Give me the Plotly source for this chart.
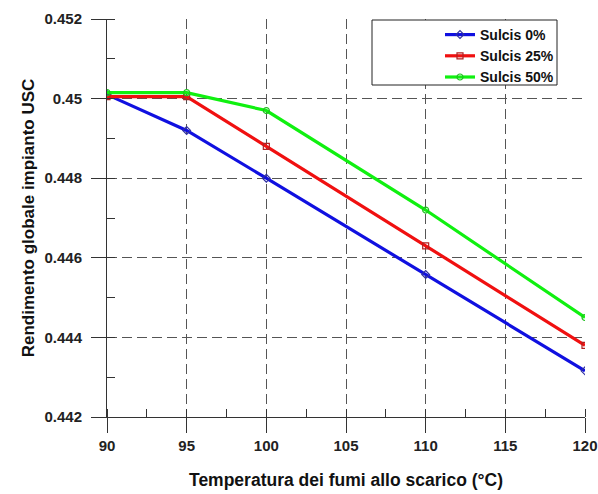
import plotly.graph_objects as go

temps = [90, 95, 100, 110, 120]
sulcis_0 = [0.45010, 0.44920, 0.44800, 0.44558, 0.44316]
sulcis_25 = [0.45005, 0.45005, 0.44880, 0.44630, 0.44380]
sulcis_50 = [0.45015, 0.45015, 0.44970, 0.44720, 0.44450]
series_names = ["Sulcis 0%", "Sulcis 25%", "Sulcis 50%"]
y_ticks = [0.442, 0.444, 0.446, 0.448, 0.450, 0.452]
y_ticktext = ["0.442", "0.444", "0.446", "0.448", "0.45", "0.452"]
x_ticks = [90, 95, 100, 105, 110, 115, 120]

W, H = 598, 494
L, R, T, B = 107, 13, 19, 77

fig = go.Figure()
styles = [
    dict(line=dict(color="#1010e0", width=3.2), marker=dict(symbol="diamond-open", size=6, color="#3030a0", line=dict(width=1.2))),
    dict(line=dict(color="#f01010", width=3.2), marker=dict(symbol="square-open", size=6, color="#b02020", line=dict(width=1.2))),
    dict(line=dict(color="#10f010", width=3.2), marker=dict(symbol="circle-open", size=6, color="#20c020", line=dict(width=1.2))),
]
for name, ys, st in zip(series_names, [sulcis_0, sulcis_25, sulcis_50], styles):
    fig.add_trace(go.Scatter(x=temps, y=ys, name=name, mode="lines+markers", **st))

axis_common = dict(
    showline=True, linecolor="#333", linewidth=1,
    ticks="outside", ticklen=15, tickcolor="#333", tickwidth=1,
    showgrid=True, gridcolor="#555", gridwidth=1, griddash="10px,5px",
    zeroline=False, automargin=False,
    tickfont=dict(family="Liberation Sans, Arial", size=15, color="#222", weight="bold"),
)

fig.update_xaxes(
    range=[90, 120], tickvals=x_ticks,
    title=dict(text="<b>Temperatura dei fumi allo scarico (°C)</b>",
               font=dict(family="Liberation Sans, Arial", size=17.5, color="#111"), standoff=20),
    minor=dict(ticks="inside", ticklen=8, dtick=2.5, tick0=90, tickcolor="#333", showgrid=False),
    **axis_common,
)
fig.update_yaxes(
    range=[0.442, 0.452], tickvals=y_ticks, ticktext=y_ticktext,
    ticklabelstandoff=6,
    title=dict(text="<b>Rendimento globale impianto USC</b>",
               font=dict(family="Liberation Sans, Arial", size=17, color="#111"), standoff=5),
    minor=dict(ticks="inside", ticklen=8, dtick=0.001, tick0=0.442, tickcolor="#333", showgrid=False),
    **axis_common,
)

pw, ph = W - L - R, H - T - B
def px(x):
    return (x - L) / pw
def py(y):
    return (H - B - y) / ph

# legend frame (rectangle in paper coordinates)
fig.add_shape(type="rect", xref="paper", yref="paper",
              x0=px(372), x1=px(557), y0=py(85), y1=py(20),
              line=dict(color="#222", width=1), fillcolor="white", layer="above")

fig.update_layout(
    width=W, height=H,
    margin=dict(l=L, r=R, t=T, b=B),
    plot_bgcolor="white", paper_bgcolor="white",
    font=dict(family="Liberation Sans, Arial", color="#222"),
    legend=dict(x=px(440), y=py(19), xanchor="left", yanchor="top",
                bgcolor="rgba(0,0,0,0)", borderwidth=0,
                font=dict(family="Liberation Sans, Arial", size=14, color="#111", weight="bold"),
                tracegroupgap=0, itemwidth=30),
    showlegend=True,
)

fig.write_html("out.html", config={"displayModeBar": False},
               post_script="document.body.style.margin='0';document.body.style.overflow='hidden';")
